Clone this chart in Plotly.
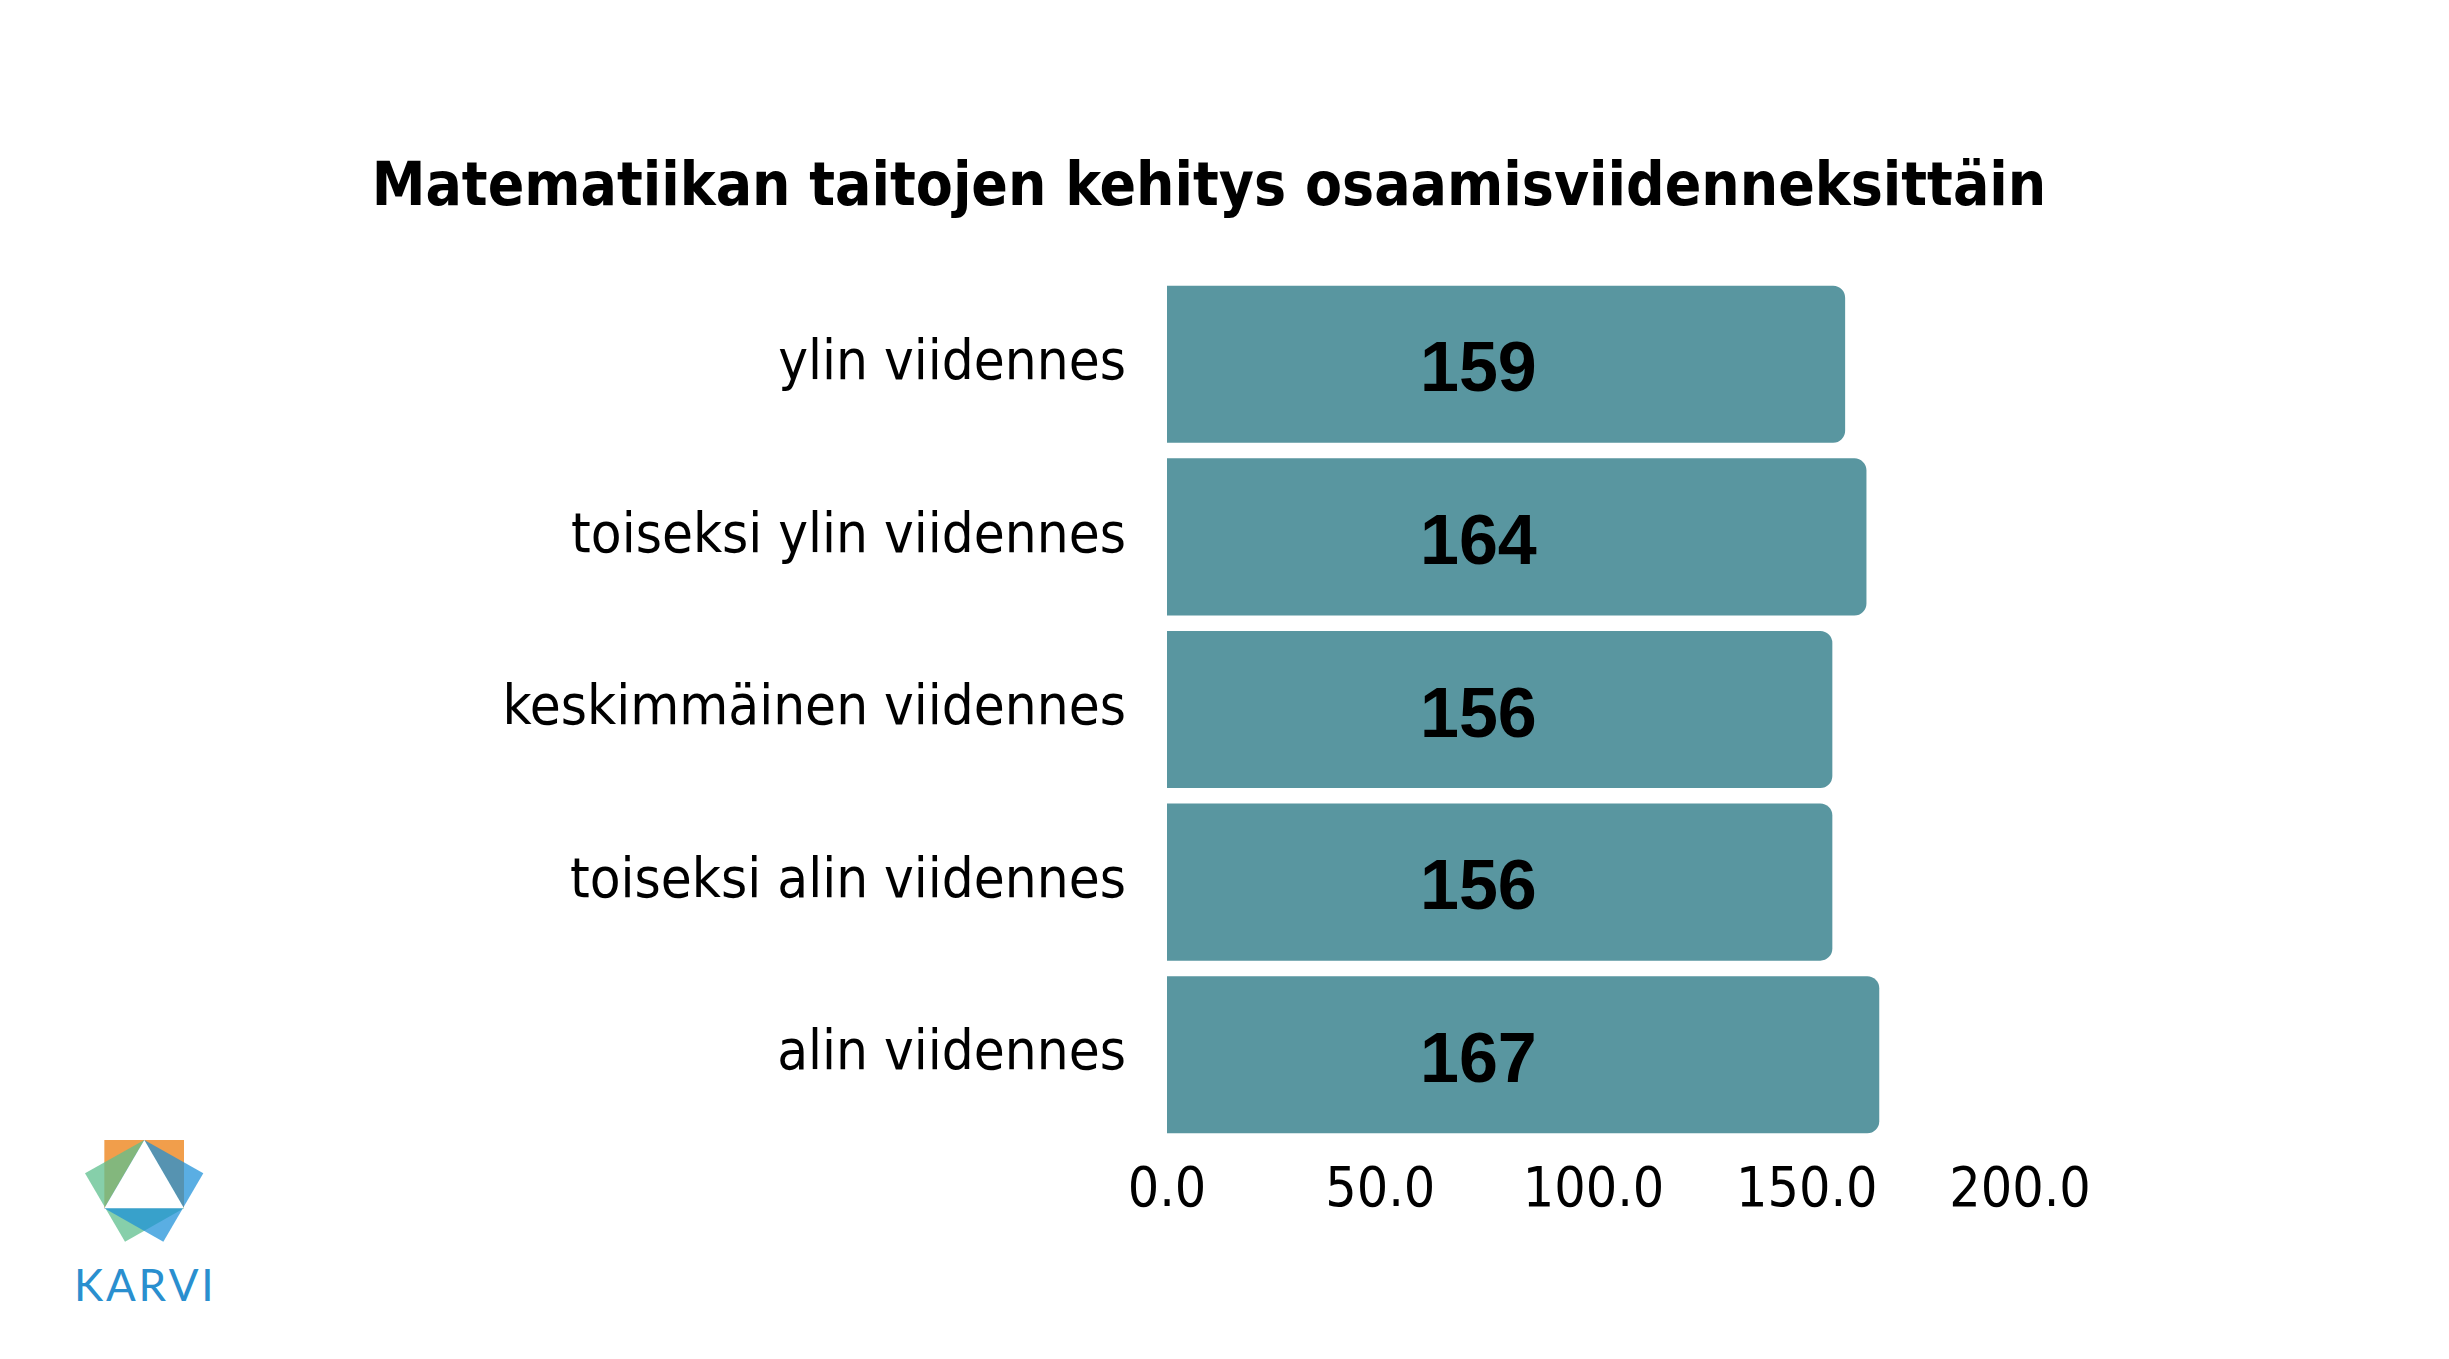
import plotly.graph_objects as go

categories = ["ylin viidennes", "toiseksi ylin viidennes", "keskimmäinen viidennes",
              "toiseksi alin viidennes", "alin viidennes"]
values = [159, 164, 156, 156, 167]
tick_vals = [0, 50, 100, 150, 200]
tick_text = ["0.0", "50.0", "100.0", "150.0", "200.0"]
title_text = "Matematiikan taitojen kehitys osaamisviidenneksittäin"

W, H = 2449, 1359
OFF = 8  # page body margin
ML, MR, MT, MB = 1167 - OFF, 429 + OFF, 278 - OFF, 218 + OFF
PW, PH = W - ML - MR, H - MT - MB

BAR_COLOR = "#5996A0"
LABEL_X = 73

fig = go.Figure()
fig.add_trace(go.Bar(
    x=values, y=categories, orientation="h",
    marker=dict(color=BAR_COLOR, line=dict(width=0)),
    hoverinfo="skip", showlegend=False,
))


def P(px, py):
    fx, fy = px - OFF, py - OFF
    return (fx - ML) / PW, (H - MB - fy) / PH


def zoompt(zx, zy):
    return P(60 + zx / 3.0, 1120 + zy / 3.0)


def path(pts):
    s = ""
    for i, (zx, zy) in enumerate(pts):
        x, y = zoompt(zx, zy)
        s += ("M" if i == 0 else "L") + f"{x:.5f},{y:.5f} "
    return s + "Z"


shapes = []
logo = [
    ([(133, 60), (372, 60), (372, 265), (133, 265)], "#F0963C", 0.92),
    ([(75, 160), (253, 60), (372, 265), (195, 365)], "#5EBF8E", 0.75),
    ([(430, 160), (253, 60), (133, 265), (310, 365)], "#1B8FD8", 0.72),
]
for pts, col, op in logo:
    shapes.append(dict(type="path", xref="paper", yref="paper", path=path(pts),
                       fillcolor=col, opacity=op, line=dict(width=0), layer="above"))
shapes.append(dict(type="path", xref="paper", yref="paper",
                   path=path([(253, 60), (372, 265), (133, 265)]),
                   fillcolor="#FFFFFF", line=dict(width=0), layer="above"))

annotations = []
for cat, v in zip(categories, values):
    annotations.append(dict(text=str(v), x=LABEL_X, y=cat, xref="x", yref="y",
                            xanchor="center", yanchor="middle", showarrow=False, yshift=-3,
                            font=dict(family="Liberation Sans, Arial, sans-serif", size=70,
                                      color="#000000", weight="bold")))

kx, ky = P(144, 1284)
annotations.append(dict(text="K\u200aA\u200aR\u200aV\u200aI", x=kx, y=ky, xref="paper", yref="paper",
                        xanchor="center", yanchor="middle", showarrow=False,
                        font=dict(family="Lato, DejaVu Sans, sans-serif", size=44, color="#2A8FCF")))

fig.update_layout(
    width=W, height=H,
    margin=dict(l=ML, r=MR, t=MT, b=MB, autoexpand=False),
    paper_bgcolor="white", plot_bgcolor="white",
    bargap=0.09, barcornerradius=12,
    title=dict(text="<b>" + title_text + "</b>", x=(1209 - OFF) / W, y=1 - (184 - OFF) / H,
               xanchor="center", yanchor="middle",
               font=dict(family="Liberation Sans Narrow, DejaVu Sans Condensed, sans-serif",
                         size=60, color="#000000")),
    xaxis=dict(range=[0, 200], tickvals=tick_vals, ticktext=tick_text,
               showgrid=False, zeroline=False, showline=False, ticks="",
               ticklabelstandoff=9,
               tickfont=dict(family="DejaVu Sans Condensed, DejaVu Sans, sans-serif", size=55, color="#000000"),
               fixedrange=True),
    yaxis=dict(categoryorder="array", categoryarray=categories, autorange="reversed",
               showgrid=False, zeroline=False, showline=False, ticks="",
               ticklabelstandoff=40, ticklabelshift=5,
               tickfont=dict(family="DejaVu Sans Condensed, DejaVu Sans, sans-serif", size=56, color="#000000"),
               fixedrange=True),
    shapes=shapes, annotations=annotations,
)

fig.write_html("out.html")
